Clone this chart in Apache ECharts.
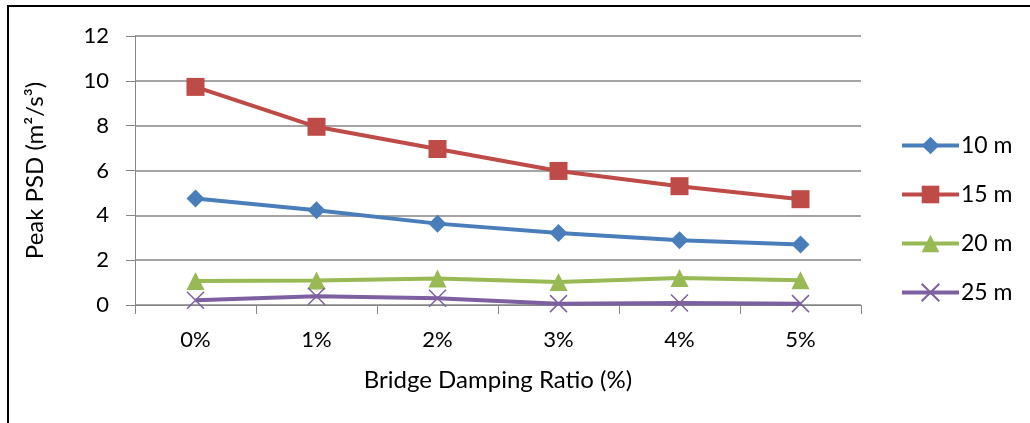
<!DOCTYPE html>
<html>
<head>
<meta charset="utf-8">
<script src="https://cdn.jsdelivr.net/npm/echarts@6/dist/echarts.min.js"></script>
<style>html,body{margin:0;padding:0;background:#fff}#c{width:1030px;height:423px}</style>
</head>
<body>
<div id="c"></div>
<script>
const categories = ['0%', '1%', '2%', '3%', '4%', '5%'];
const s10 = [4.75, 4.23, 3.63, 3.21, 2.89, 2.70];
const s15 = [9.73, 7.95, 6.96, 5.98, 5.30, 4.72];
const s20 = [1.07, 1.09, 1.18, 1.03, 1.20, 1.10];
const s25 = [0.21, 0.39, 0.30, 0.06, 0.09, 0.06];
const seriesNames = ['10 m', '15 m', '20 m', '25 m'];
const yTicks = { min: 0, max: 12, interval: 2 };

const FONT = 'Lato';
const chart = echarts.init(document.getElementById('c'), null, { renderer: 'canvas' });

function line(name, data, color, symbol, size, extra) {
  return Object.assign({
    name: name, type: 'line', data: data,
    symbol: symbol, symbolSize: size,
    lineStyle: { color: color, width: 4 },
    itemStyle: { color: color },
    emphasis: { disabled: true },
    animation: false
  }, extra || {});
}

chart.setOption({
  animation: false,
  backgroundColor: '#fff',
  textStyle: { fontFamily: FONT, color: '#000' },
  graphic: [{
    type: 'rect', shape: { x: 8, y: 6, width: 1200, height: 600 },
    style: { fill: 'none', stroke: '#000', lineWidth: 2 }, silent: true, z: 100
  }],
  grid: { left: 135, top: 36, right: 169, bottom: 118 },
  legend: {
    orient: 'vertical', left: 895, top: 129,
    itemWidth: 57, itemHeight: 22, itemGap: 26,
    lineStyle: { width: 4 },
    textStyle: { fontSize: 23, fontFamily: FONT, color: '#000', padding: [0, 0, 0, -3] },
    data: seriesNames
  },
  xAxis: {
    type: 'category', data: categories, boundaryGap: true,
    name: 'Bridge Damping Ratio (%)', nameLocation: 'middle', nameGap: 63,
    nameTextStyle: { fontSize: 24, fontFamily: FONT, color: '#000' },
    axisLine: { lineStyle: { color: '#868686', width: 1 } },
    axisTick: { show: true, length: 9, inside: false, lineStyle: { color: '#868686' } },
    axisLabel: { fontSize: 22, fontFamily: FONT, color: '#000', margin: 24 }
  },
  yAxis: {
    type: 'value', min: yTicks.min, max: yTicks.max, interval: yTicks.interval,
    name: 'Peak PSD (m²/s³)', nameLocation: 'middle', nameGap: 88,
    nameTextStyle: { fontSize: 24, fontFamily: FONT, color: '#000' },
    axisLine: { show: true, lineStyle: { color: '#868686', width: 1 } },
    axisTick: { show: true, length: 9, lineStyle: { color: '#868686' } },
    axisLabel: { fontSize: 22, fontFamily: FONT, color: '#000', margin: 26 },
    splitLine: { show: true, lineStyle: { color: '#868686', width: 1.5 } }
  },
  series: [
    line(seriesNames[0], s10, '#4A7EBB', 'diamond', 18),
    line(seriesNames[1], s15, '#BE4B48', 'rect', 18),
    line(seriesNames[2], s20, '#98B954', 'triangle', 18),
    line(seriesNames[3], s25, '#7D60A0', 'path://M0,0L10,10M10,0L0,10', 17, {
      itemStyle: { color: 'rgba(0,0,0,0)', borderColor: '#7D60A0', borderWidth: 1.5 }
    })
  ]
});
</script>
</body>
</html>
